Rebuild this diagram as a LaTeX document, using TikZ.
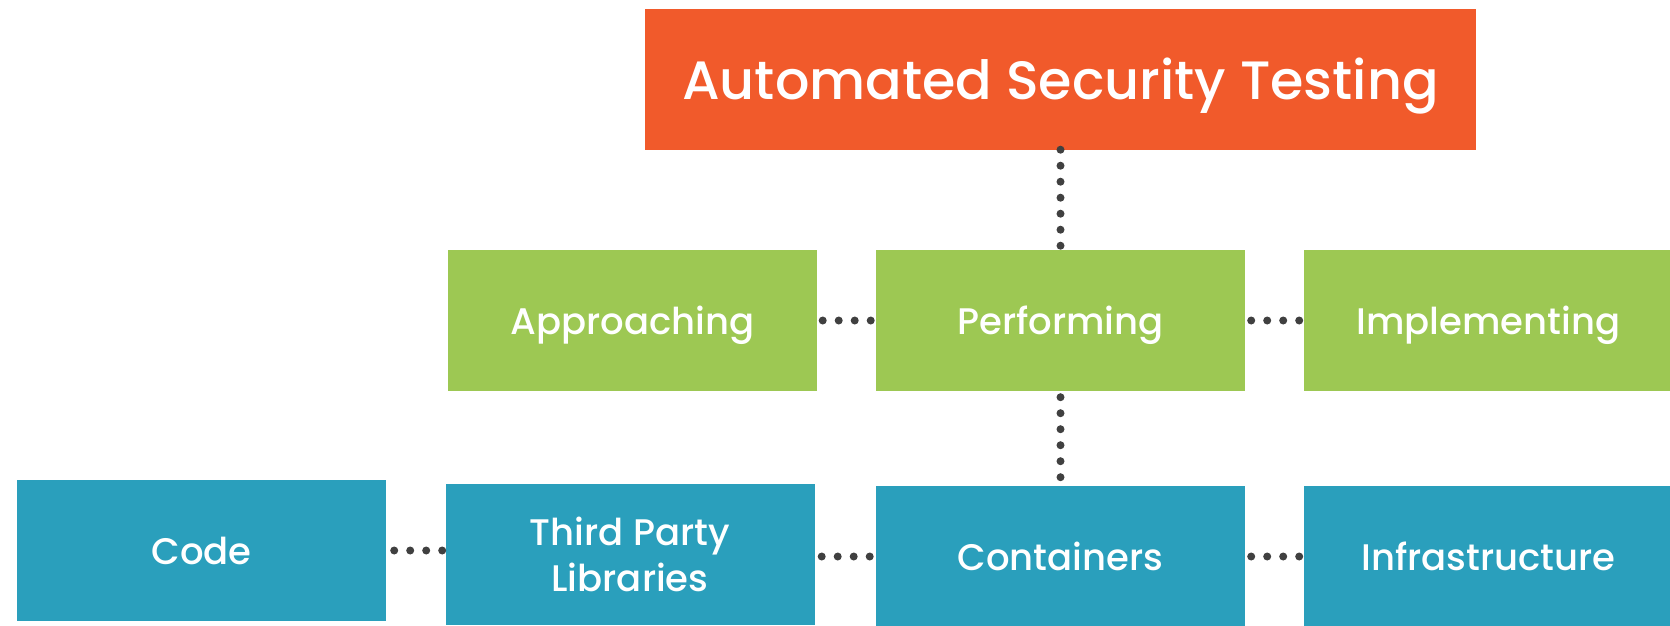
\documentclass[tikz,border=0pt]{standalone}
\usepackage{fontspec}
\setmainfont{Poppins}[UprightFont={* Medium}]
\definecolor{psorange}{HTML}{F15A2B}
\definecolor{psgreen}{HTML}{9DC853}
\definecolor{psblue}{HTML}{2A9FBC}
\definecolor{dotgray}{HTML}{404040}

\begin{document}
\begin{tikzpicture}[x=1pt, y=-1pt,
  box/.style={minimum width=369pt, minimum height=141pt, inner sep=0pt,
    text=white, align=center, font=\fontsize{37}{46}\selectfont},
  topic/.style={box, fill=psorange, minimum width=831pt, text depth=0pt,
    font=\fontsize{54}{60}\selectfont},
  stage/.style={box, fill=psgreen, text depth=0pt},
  target/.style={box, fill=psblue, text depth=0pt},
  linkdots/.style={dotgray, line width=8pt, line cap=round,
    dash pattern=on 0pt off 16pt}]
  \useasboundingbox (0,0) rectangle (1670,625);

  \node [topic]  at (1060.5,79)    (Top)          {Automated Security Testing};

  \node [stage]  at (632.5,320.5)  (Approaching)  {Approaching};
  \node [stage]  at (1060.5,320.5) (Performing)   {Performing};
  \node [stage]  at (1488.5,320.5) (Implementing) {Implementing};

  \node [target] at (201.5,550.5)  (Code)         {Code};
  \node [target, text depth=] at (630,554.5) (ThirdParty) {Third Party\\Libraries};
  \node [target] at (1060.5,556.5) (Containers)   {Containers};
  \node [target] at (1488.5,556.5) (Infra)        {Infrastructure};

  \draw [linkdots] (Top.south) -- (Performing.north);
  \draw [linkdots] ([yshift=-6pt]Performing.south) -- (Containers.north);

  \draw [linkdots] ([xshift=5.5pt]Approaching.east) -- (Performing.west);
  \draw [linkdots] ([xshift=6pt]Performing.east)    -- (Implementing.west);

  \draw [linkdots] ([xshift=8pt]Code.east) -- (Code.east -| ThirdParty.west);
  \draw [linkdots] ([xshift=7pt]ThirdParty.east |- Containers.west) -- (Containers.west);
  \draw [linkdots] ([xshift=6pt]Containers.east)    -- (Infra.west);
\end{tikzpicture}
\end{document}
